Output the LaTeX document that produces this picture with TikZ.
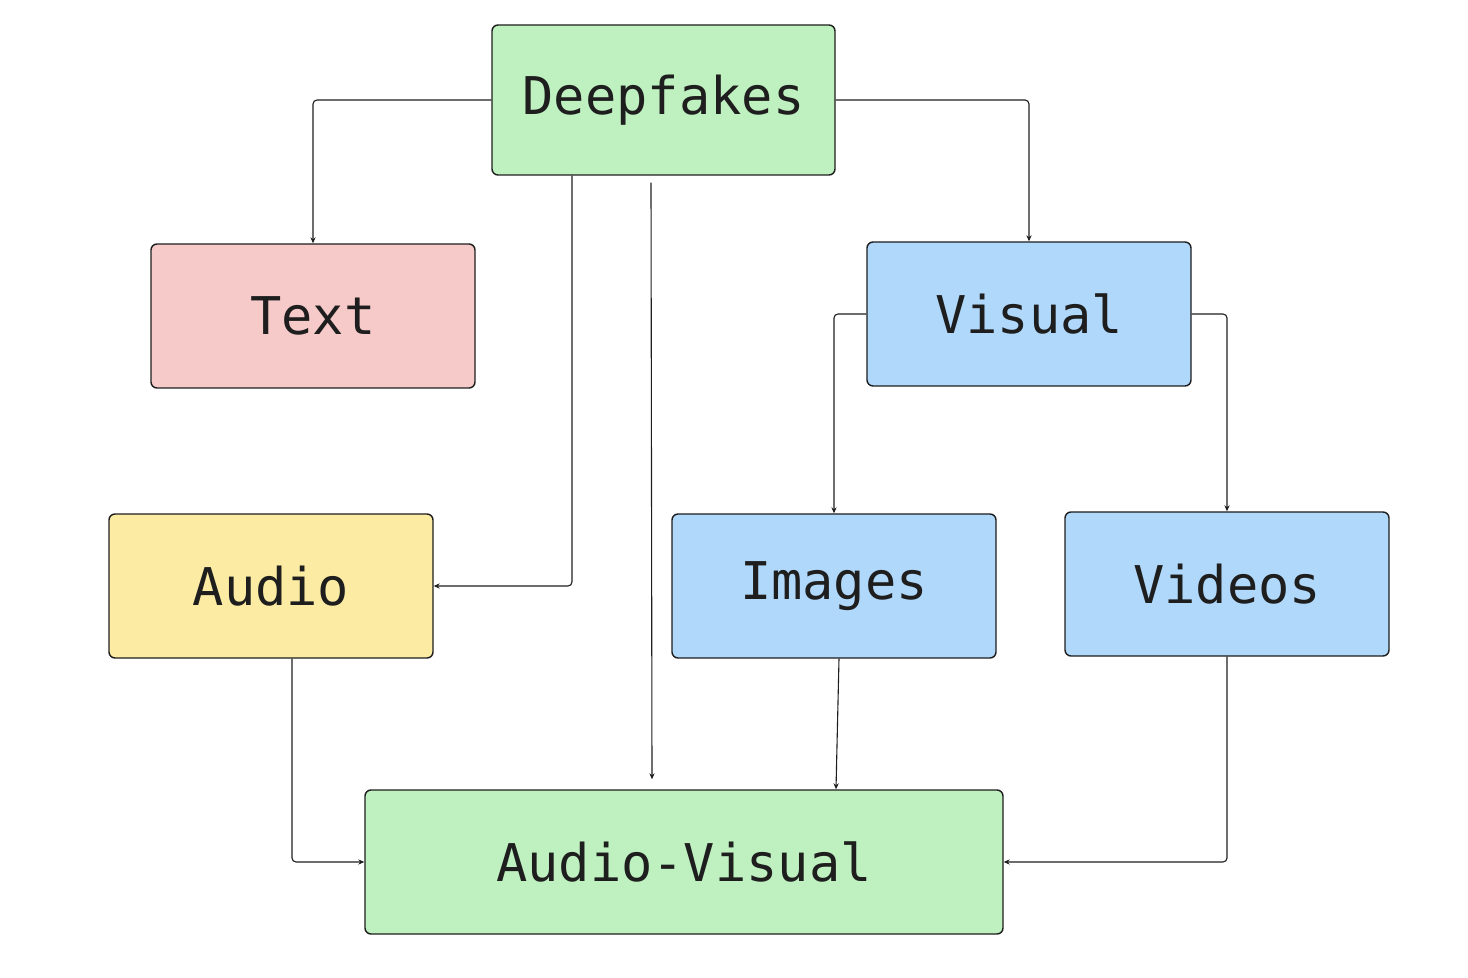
\documentclass[tikz,border=0pt]{standalone}
\usepackage{fontspec}
\setmainfont{DejaVu Sans Mono}
\usepackage{xcolor}
\usepackage{tikz}
\usetikzlibrary{arrows.meta, calc}
\definecolor{boxgreen}{RGB}{191,240,192}
\definecolor{boxpink}{RGB}{246,202,201}
\definecolor{boxyellow}{RGB}{252,236,163}
\definecolor{boxblue}{RGB}{176,216,250}
\definecolor{ink}{RGB}{30,30,30}
\tikzset{>={Stealth[length=3pt, width=2.6pt]}}
\tikzset{card/.style={draw=ink, line width=0.7pt, rounded corners=3pt, minimum width=162pt, minimum height=72pt, inner sep=0pt, font=\fontsize{26}{30}\selectfont, text=ink}}
\tikzset{link/.style={draw=ink, line width=0.55pt, ->, rounded corners=2pt}}

\begin{document}
\begin{tikzpicture}[x=0.5pt, y=-0.5pt]
            \useasboundingbox (0,0) rectangle (1468,978);
            \node[card, fill=boxgreen, minimum width=171.5pt, minimum height=75pt] (deep) at (663.5,100) {Deepfakes};
            \node[card, fill=boxpink] (txt) at (313,316) {Text};
            \node[card, fill=boxblue] (vis) at (1029,314) {Visual};
            \node[card, fill=boxyellow] (aud) at (271,586) {Audio};
            \node[card, fill=boxblue] (img) at (834,586) {Images};
            \node[card, fill=boxblue] (vid) at (1227,584) {Videos};
            \node[card, fill=boxgreen, minimum width=319pt] (av) at (684,862) {Audio-Visual};
            \draw[link] (deep.west) -| (txt.north);
            \draw[link] (deep.east) -| (vis.north);
            \draw[link] ([shift={(-91.5,0)}]deep.south) |- (aud.east);
            \draw[link] ([shift={(-12.5,7)}]deep.south) -- ([shift={(-32,-10)}]av.north);
            \draw[link] (vis.west) -| (img.north);
            \draw[link] (vis.east) -| (vid.north);
            \draw[link] ([shift={(5,0)}]img.south) -- ([shift={(152,0)}]av.north);
            \draw[link] ([shift={(21,0)}]aud.south) |- (av.west);
            \draw[link] (vid.south) |- (av.east);
        \end{tikzpicture}
\end{document}
